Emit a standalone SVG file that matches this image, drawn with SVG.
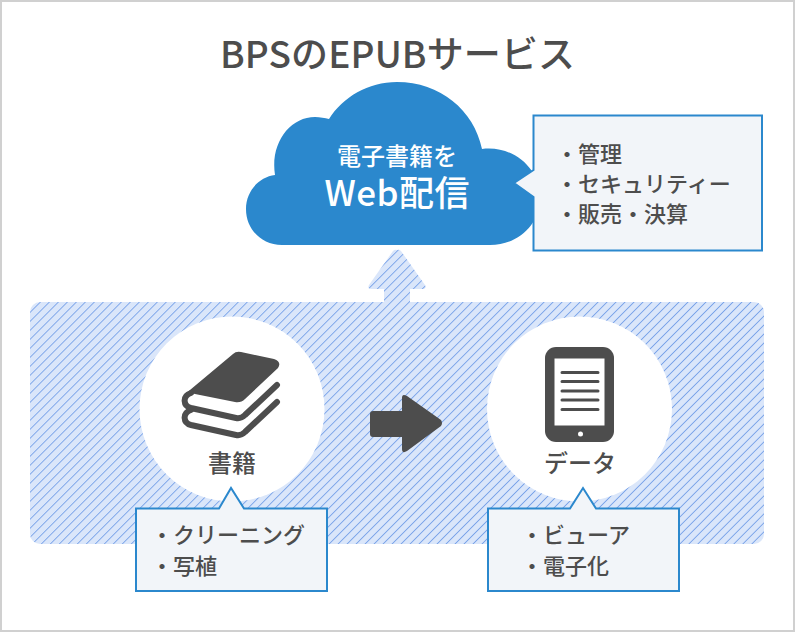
<svg xmlns="http://www.w3.org/2000/svg" width="795" height="632" viewBox="0 0 795 632">
<style>
text{font-family:"Noto Sans CJK JP","Noto Sans",sans-serif;fill:#4d4d4d}
.item{font-size:22px;font-weight:500}
.box{fill:#f2f5f9;stroke:#2b88cd;stroke-width:2}
.dark{fill:#4d4d4d}
.hatch{fill:url(#h)}
</style>
<defs>
<pattern id="h" width="6.36" height="6.36" patternUnits="userSpaceOnUse" patternTransform="rotate(-45 0 0)">
<rect width="6.36" height="6.36" fill="#dae6fa"/>
<rect width="6.36" height="0.7" fill="#5f90e4"/>
</pattern>
</defs>
<rect x="1" y="1" width="793" height="630" fill="#fff" stroke="#d0d0d0" stroke-width="2"/>
<text x="397.500" y="68" font-size="37" font-weight="500" text-anchor="middle" textLength="355" lengthAdjust="spacing">BPSのEPUBサービス</text>
<g id="connectors">
<path class="hatch" d="M397 250Q399 249 401 251L425 285Q427 289 423 289H410V303H384V289H371Q367 289 369 285L393 251Q395 249 397 250Z"/>
</g>
<g id="panel"><rect class="hatch" x="30" y="302" width="734" height="242" rx="10"/></g>
<g id="arrow"><path class="dark" d="M373 411H402V398Q402 393 407 396L441 420Q443 423 441 426L407 451Q402 454 402 449V437H373Q370 437 370 434V414Q370 411 373 411Z"/></g>
<g id="cloud">
<path fill="#2b88cd" d="M282 245C261 245 246 229 246 209C246 191 259 177 275 175C270 143 290 117 315 117C320 117 325 118 329 119C343 97 368 82 397 82C440 82 474 110 482 149C515 145 540 170 540 197C540 225 518 245 490 245Z"/>
<text x="397" y="165" font-size="24" font-weight="500" text-anchor="middle" style="fill:#fff">電子書籍を</text>
<text x="397" y="206" font-size="35" font-weight="500" text-anchor="middle" style="fill:#fff" textLength="145">Web配信</text>
</g>
<g id="cloud-note">
<path class="box" d="M533.500 115.500H762V250.500H533.500V197L514 183L533.500 170Z"/>
<text class="item" x="556" y="162">・管理</text>
<text class="item" x="556" y="192">・セキュリティー</text>
<text class="item" x="556" y="222">・販売・決算</text>
</g>
<g id="books">
<circle cx="232" cy="409" r="92.500" fill="#fff"/>
<path class="dark" d="M184 395L233 354Q236 351 241 352L274 359Q282 362 278 368L245 399Q241 403 235 402L190 393Z"/>
<path d="M191 393C182 396 183 406 191 408L236 418Q241 419 245 415L277 385" fill="none" stroke="#4d4d4d" stroke-width="6" stroke-linecap="round"/>
<path d="M191 410C182 413 183 423 191 425L236 435Q241 436 245 432L277 402" fill="none" stroke="#4d4d4d" stroke-width="6" stroke-linecap="round"/>
<text x="232" y="472" font-size="24" font-weight="500" text-anchor="middle">書籍</text>
</g>
<g id="books-note">
<path class="box" d="M136 508.500H219L231 488L244 508.500H327V591H136Z"/>
<text class="item" x="151" y="543">・クリーニング</text>
<text class="item" x="151" y="574">・写植</text>
</g>
<g id="data">
<circle cx="579.500" cy="409" r="92.500" fill="#fff"/>
<rect class="dark" x="545" y="347" width="69" height="95" rx="11"/>
<rect x="554.500" y="358.500" width="50" height="67" fill="#fff"/>
<path d="M562 372.500H598M562 381.500H598M562 391H598M562 400H598M562 409.500H598" stroke="#4d4d4d" stroke-width="3" stroke-linecap="round"/>
<circle cx="580.500" cy="434" r="2.500" fill="#fff"/>
<text x="580" y="472" font-size="24" font-weight="500" text-anchor="middle">データ</text>
</g>
<g id="data-note">
<path class="box" d="M488 508.500H570L583 488L596 508.500H679V591H488Z"/>
<text class="item" x="521" y="543">・ビューア</text>
<text class="item" x="521" y="574">・電子化</text>
</g>
</svg>
